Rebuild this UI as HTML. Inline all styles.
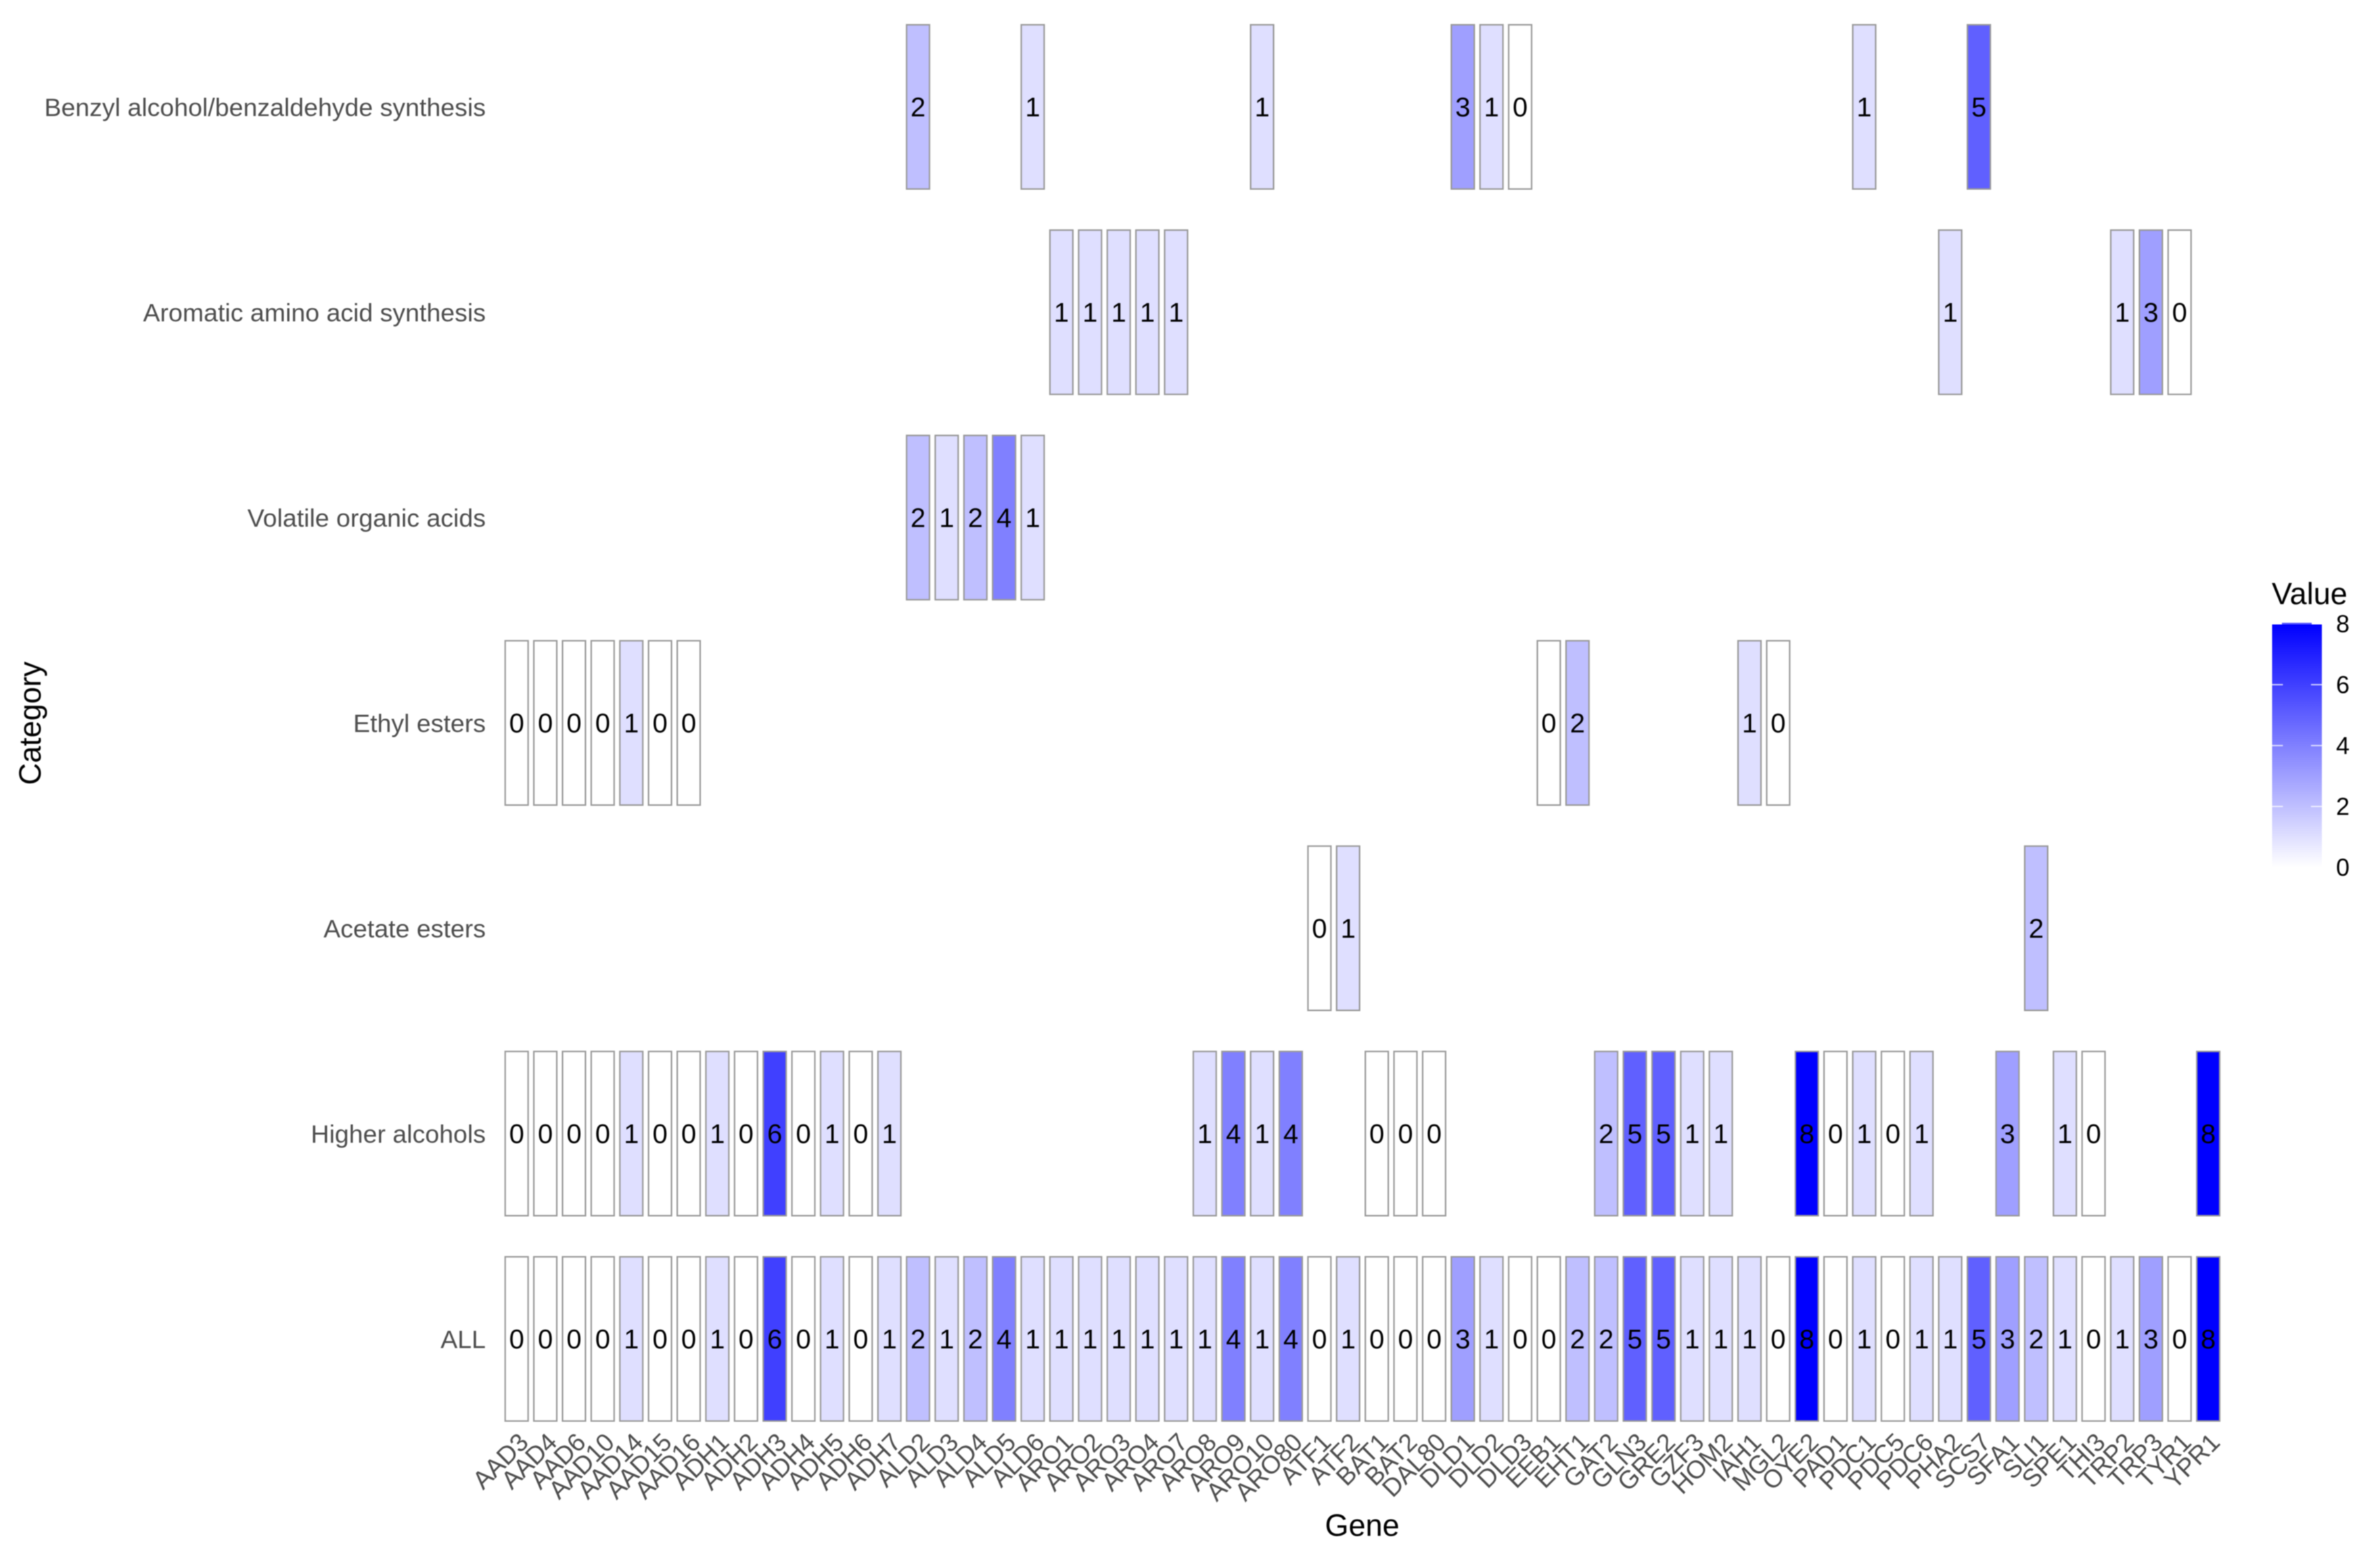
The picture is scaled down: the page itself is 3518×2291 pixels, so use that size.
<!DOCTYPE html>
<html lang="en">
<head>
<meta charset="utf-8">
<title>Gene category heatmap</title>
<style>
html,body{margin:0;padding:0;background:#fff;}
svg{display:block;filter:blur(0.7px);}
text{font-family:"Liberation Sans",Arial,sans-serif;}
</style>
</head>
<body>
<svg id="chart" xmlns="http://www.w3.org/2000/svg" width="3518" height="2291" viewBox="0 0 3518 2291">
  <rect x="0" y="0" width="3518" height="2291" fill="#ffffff"/>
  <defs>
    <linearGradient id="legend-gradient" x1="0" y1="1" x2="0" y2="0"></linearGradient>
  </defs>
  <g id="tiles"></g>
  <g id="value-labels"></g>
  <g id="y-ticks"></g>
  <g id="x-ticks"></g>
  <text x="2013.5" y="2270" font-size="45" text-anchor="middle" fill="#000">Gene</text>
  <text transform="translate(60 1069) rotate(-90)" font-size="45" text-anchor="middle" fill="#000">Category</text>
  <g id="legend">
    <text x="3358" y="893" font-size="45" fill="#000">Value</text>
    <rect id="legend-bar" x="3358.5" y="923" width="73.5" height="359" fill="url(#legend-gradient)"/>
    <rect x="3373" y="920.5" width="44" height="2.5" fill="#5a5aff"/>
  </g>
</svg>
<script>
const NS = "http://www.w3.org/2000/svg";
const N = null;

const genes = ["AAD3","AAD4","AAD6","AAD10","AAD14","AAD15","AAD16","ADH1","ADH2","ADH3","ADH4","ADH5","ADH6","ADH7","ALD2","ALD3","ALD4","ALD5","ALD6","ARO1","ARO2","ARO3","ARO4","ARO7","ARO8","ARO9","ARO10","ARO80","ATF1","ATF2","BAT1","BAT2","DAL80","DLD1","DLD2","DLD3","EEB1","EHT1","GAT2","GLN3","GRE2","GZF3","HOM2","IAH1","MGL2","OYE2","PAD1","PDC1","PDC5","PDC6","PHA2","SCS7","SFA1","SLI1","SPE1","THI3","TRP2","TRP3","TYR1","YPR1"];

const categories = ["Benzyl alcohol/benzaldehyde synthesis","Aromatic amino acid synthesis","Volatile organic acids","Ethyl esters","Acetate esters","Higher alcohols","ALL"];

const benzylValues = [N,N,N,N,N,N,N,N,N,N,N,N,N,N,2,N,N,N,1,N,N,N,N,N,N,N,1,N,N,N,N,N,N,3,1,0,N,N,N,N,N,N,N,N,N,N,N,1,N,N,N,5,N,N,N,N,N,N,N,N];
const aromaticValues = [N,N,N,N,N,N,N,N,N,N,N,N,N,N,N,N,N,N,N,1,1,1,1,1,N,N,N,N,N,N,N,N,N,N,N,N,N,N,N,N,N,N,N,N,N,N,N,N,N,N,1,N,N,N,N,N,1,3,0,N];
const volatileAcidValues = [N,N,N,N,N,N,N,N,N,N,N,N,N,N,2,1,2,4,1,N,N,N,N,N,N,N,N,N,N,N,N,N,N,N,N,N,N,N,N,N,N,N,N,N,N,N,N,N,N,N,N,N,N,N,N,N,N,N,N,N];
const ethylEsterValues = [0,0,0,0,1,0,0,N,N,N,N,N,N,N,N,N,N,N,N,N,N,N,N,N,N,N,N,N,N,N,N,N,N,N,N,N,0,2,N,N,N,N,N,1,0,N,N,N,N,N,N,N,N,N,N,N,N,N,N,N];
const acetateEsterValues = [N,N,N,N,N,N,N,N,N,N,N,N,N,N,N,N,N,N,N,N,N,N,N,N,N,N,N,N,0,1,N,N,N,N,N,N,N,N,N,N,N,N,N,N,N,N,N,N,N,N,N,N,N,2,N,N,N,N,N,N];
const higherAlcoholValues = [0,0,0,0,1,0,0,1,0,6,0,1,0,1,N,N,N,N,N,N,N,N,N,N,1,4,1,4,N,N,0,0,0,N,N,N,N,N,2,5,5,1,1,N,N,8,0,1,0,1,N,N,3,N,1,0,N,N,N,8];
const allValues = [0,0,0,0,1,0,0,1,0,6,0,1,0,1,2,1,2,4,1,1,1,1,1,1,1,4,1,4,0,1,0,0,0,3,1,0,0,2,2,5,5,1,1,1,0,8,0,1,0,1,1,5,3,2,1,0,1,3,0,8];

const legendTicks = [0,2,4,6,8];

const rows = [benzylValues,aromaticValues,volatileAcidValues,ethylEsterValues,acetateEsterValues,higherAlcoholValues,allValues];

const X0 = 763.7, XSTEP = 42.38;
const Y0 = 158, YSTEP = 303.5;
const TILE = 0.8;
const VMAX = legendTicks[legendTicks.length - 1];

function xScale(i){ return X0 + i * XSTEP; }
function yScale(j){ return Y0 + j * YSTEP; }
function legendScale(v){ return 1282 - (v / VMAX) * 360; }
function colorScale(v){
  const c = Math.round(255 * (1 - v / VMAX));
  return "rgb(" + c + "," + c + ",255)";
}
function slug(s){ return s.toLowerCase().replace(/[^a-z0-9]+/g, "-"); }
function make(tag, attrs){
  const el = document.createElementNS(NS, tag);
  for (const k in attrs) el.setAttribute(k, attrs[k]);
  return el;
}

const tilesG = document.getElementById("tiles");
const valuesG = document.getElementById("value-labels");
const yG = document.getElementById("y-ticks");
const xG = document.getElementById("x-ticks");
const legendG = document.getElementById("legend");
const grad = document.getElementById("legend-gradient");

const tw = XSTEP * TILE, th = YSTEP * TILE;

rows.forEach(function(row, j){
  row.forEach(function(v, i){
    if (v === null) return;
    const cx = xScale(i), cy = yScale(j);
    const r = make("rect", {x: cx - tw / 2, y: cy - th / 2, width: tw, height: th, fill: colorScale(v), stroke: "#999999", "stroke-width": 2.2});
    
    
    tilesG.appendChild(r);
    const t = make("text", {x: cx, y: cy, dy: ".35em", "font-size": 40, "text-anchor": "middle", fill: "#000"});
    t.textContent = String(v);
    
    
    valuesG.appendChild(t);
  });
});

categories.forEach(function(c, j){
  const t = make("text", {x: 718, y: yScale(j), dy: ".36em", "font-size": 37.5, "text-anchor": "end", fill: "#4d4d4d"});
  t.textContent = c;
  
  
  yG.appendChild(t);
});

genes.forEach(function(g, i){
  const ax = xScale(i) + 19.5, ay = 2134;
  const t = make("text", {transform: "translate(" + ax + " " + ay + ") rotate(-45)", "font-size": 37.4, "text-anchor": "end", fill: "#4d4d4d"});
  t.textContent = g;
  
  
  xG.appendChild(t);
});

legendTicks.forEach(function(v){
  const stop = make("stop", {offset: v / VMAX, "stop-color": colorScale(v)});
  grad.appendChild(stop);
});

const barX = 3358.5, barW = 73.5, tickLen = 16;
legendTicks.forEach(function(v){
  const y = legendScale(v);
  if (v > 0 && v < VMAX) {
    const l1 = make("line", {x1: barX, x2: barX + tickLen, y1: y, y2: y, stroke: "#ffffff", "stroke-opacity": 0.75, "stroke-width": 2});
    
    
    legendG.appendChild(l1);
    const l2 = make("line", {x1: barX + barW - tickLen, x2: barX + barW, y1: y, y2: y, stroke: "#ffffff", "stroke-opacity": 0.75, "stroke-width": 2});
    
    
    legendG.appendChild(l2);
  }
  const t = make("text", {x: 3453, y: y, dy: ".35em", "font-size": 36, fill: "#000"});
  t.textContent = String(v);
  
  
  legendG.appendChild(t);
});
</script>
</body>
</html>
